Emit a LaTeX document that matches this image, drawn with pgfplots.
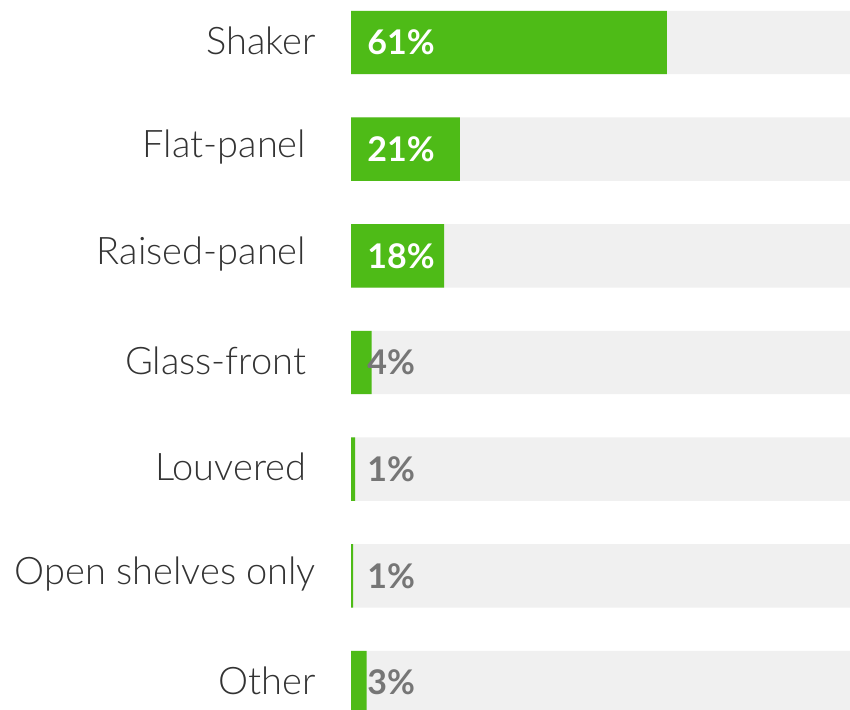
\documentclass[border=0pt]{standalone}
\usepackage{pgfplots}
\pgfplotsset{compat=1.18}
\usepackage{fontspec}
\setmainfont{Lato}[UprightFont=* Light, BoldFont=* Bold]
\definecolor{barGreen}{HTML}{4EBB17}
\definecolor{bgGray}{HTML}{F0F0F0}
\definecolor{pctGray}{HTML}{767676}
\definecolor{catText}{HTML}{333333}
\begin{document}
\begin{tikzpicture}
\begin{axis}[
  width=425pt, height=354.5pt, scale only axis,
  xmin=-67.76, xmax=96.33,
  ymin=-0.3984, ymax=6.2484, y dir=reverse,
  axis line style={draw=none}, ticks=none,
  xbar, bar shift=0pt, bar width=0.595,
  clip=true,
]
% gray background bars
\addplot[draw=none, fill=bgGray] coordinates {
  (96.33,0) (96.33,1) (96.33,2) (96.33,3) (96.33,4) (96.33,5) (96.33,6)};
% green value bars
\addplot[draw=none, fill=barGreen] coordinates {
  (61,0) (21,1) (18,2) (4,3) (0.8,4) (0.4,5) (3,6)};
% category labels
\addplot[xbar=false, only marks, mark=none,
  nodes near coords, point meta=explicit symbolic,
  nodes near coords style={anchor=east, font=\fontsize{19}{22}\selectfont, text=catText, inner sep=0pt, yshift=1pt}]
  coordinates {
  (-6.7,0) [Shaker]
  (-8.6,1) [Flat-panel]
  (-8.6,2) [Raised-panel]
  (-8.6,3) [Glass-front]
  (-8.6,4) [Louvered]
  (-6.7,5) [Open shelves only]
  (-6.7,6) [Other]};
% percent labels inside big bars
\addplot[xbar=false, only marks, mark=none,
  nodes near coords, point meta=explicit symbolic,
  nodes near coords style={anchor=west, font=\fontsize{17}{20}\selectfont\bfseries, text=white, inner sep=0pt}]
  coordinates {
  (3.1,0) [61\%]
  (3.1,1) [21\%]
  (3.1,2) [18\%]};
% percent labels for small bars
\addplot[xbar=false, only marks, mark=none,
  nodes near coords, point meta=explicit symbolic,
  nodes near coords style={anchor=west, font=\fontsize{17}{20}\selectfont\bfseries, text=pctGray, inner sep=0pt}]
  coordinates {
  (3.1,3) [4\%]
  (3.1,4) [1\%]
  (3.1,5) [1\%]
  (3.1,6) [3\%]};
\end{axis}
\pgfresetboundingbox
\path (current axis.south west) rectangle (current axis.north east);
\end{tikzpicture}
\end{document}
